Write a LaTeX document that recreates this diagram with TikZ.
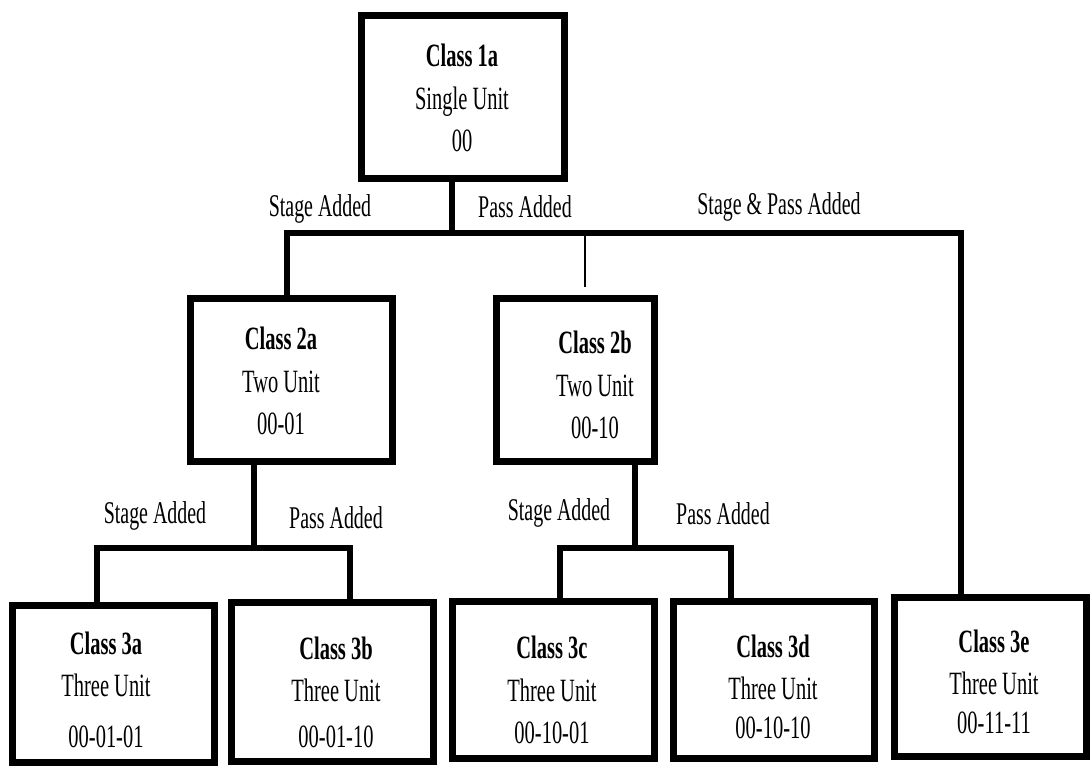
\documentclass[tikz,border=0pt]{standalone}
\usepackage{fontspec}
\setmainfont{Liberation Serif}[FakeStretch=0.63]
\usetikzlibrary{positioning}
\tikzset{classbox/.style={ % Outline of each class
            draw,
            line width=4pt,
            inner sep=0pt},
        classtext/.style={ % Three lines inside a class box
            align=center,
            font=\fontsize{18.5}{24}\selectfont},
        wire/.style={ % Tree connectors
            draw,
            line width=3.4pt},
        addlabel/.style={ % Text above the branches
            font=\fontsize{18}{20}\selectfont}
        }

\begin{document}
\begin{tikzpicture}[x=0.02cm, y=-0.02cm]
    \useasboundingbox (0,0) rectangle (1091,767);

    % boxes
    \node[classbox, minimum width=4.06cm, minimum height=3.26cm] (c1a) at (463,97) {};
    \node[classbox, minimum width=4.04cm, minimum height=3.26cm] (c2a) at (291.5,380) {};
    \node[classbox, minimum width=3.16cm, minimum height=3.26cm] (c2b) at (575.5,380) {};
    \node[classbox, minimum width=4.04cm, minimum height=3.14cm] (c3a) at (113.5,684) {};
    \node[classbox, minimum width=4.04cm, minimum height=3.18cm] (c3b) at (332.5,682) {};
    \node[classbox, minimum width=4.04cm, minimum height=3.14cm] (c3c) at (553.5,680) {};
    \node[classbox, minimum width=4.02cm, minimum height=3.14cm] (c3d) at (774,680) {};
    \node[classbox, minimum width=3.84cm, minimum height=3.18cm] (c3e) at (990.5,677) {};

    % box texts
    \node[classtext] (t1a) at (462,98) {\textbf{Class 1a}\\Single Unit\\00};
    \node[classtext] (t2a) at (281,381) {\textbf{Class 2a}\\Two Unit\\00-01};
    \node[classtext] (t2b) at (595,385) {\textbf{Class 2b}\\Two Unit\\00-10};
    \node[classtext] (t3a) at (106,690) {\textbf{Class 3a}\\Three Unit\\[5pt]00-01-01};
    \node[classtext] (t3b) at (336,692) {\textbf{Class 3b}\\Three Unit\\[2pt]00-01-10};
    \node[classtext] (t3c) at (552,690) {\textbf{Class 3c}\\Three Unit\\00-10-01};
    \node[classtext] (t3d) at (773,687) {\textbf{Class 3d}\\Three Unit\\[-2pt]00-10-10};
    \node[classtext] (t3e) at (994,682) {\textbf{Class 3e}\\Three Unit\\[-2pt]00-11-11};

    % junctions
    \coordinate (j1) at (452,233);
    \coordinate (bus1L) at (287,233);
    \coordinate (bus1R) at (961,233);
    \coordinate (j2b) at (585,233);
    \coordinate (g2b) at (585,287);
    \coordinate (j2a) at (254,548);
    \coordinate (b2aL) at (97,548);
    \coordinate (b2aR) at (350,548);
    \coordinate (j2bb) at (635,548);
    \coordinate (b2bL) at (560,548);
    \coordinate (b2bR) at (731,548);

    % first level
    \draw[wire] (c1a.south -| j1) -- (j1);
    \draw[wire] (c2a.north -| bus1L) |- (bus1R) -- (c3e.north -| bus1R);
    \draw[line width=1.2pt] (j2b) -- (g2b);

    % second level
    \draw[wire] (c2a.south -| j2a) -- (j2a);
    \draw[wire] (c3a.north -| b2aL) |- (b2aR) -- (c3b.north -| b2aR);
    \draw[wire] (c2b.south -| j2bb) -- (j2bb);
    \draw[wire] (c3c.north -| b2bL) |- (b2bR) -- (c3d.north -| b2bR);

    % branch labels
    \node[addlabel] (sa1) at (320,209) {Stage Added};
    \node[addlabel] (pa1) at (525,207) {Pass Added};
    \node[addlabel] (spa1) at (779,207) {Stage \& Pass Added};
    \node[addlabel] (sa2a) at (155,516) {Stage Added};
    \node[addlabel] (pa2a) at (336,518) {Pass Added};
    \node[addlabel] (sa2b) at (559,513) {Stage Added};
    \node[addlabel] (pa2b) at (723,514) {Pass Added};
\end{tikzpicture}
\end{document}
